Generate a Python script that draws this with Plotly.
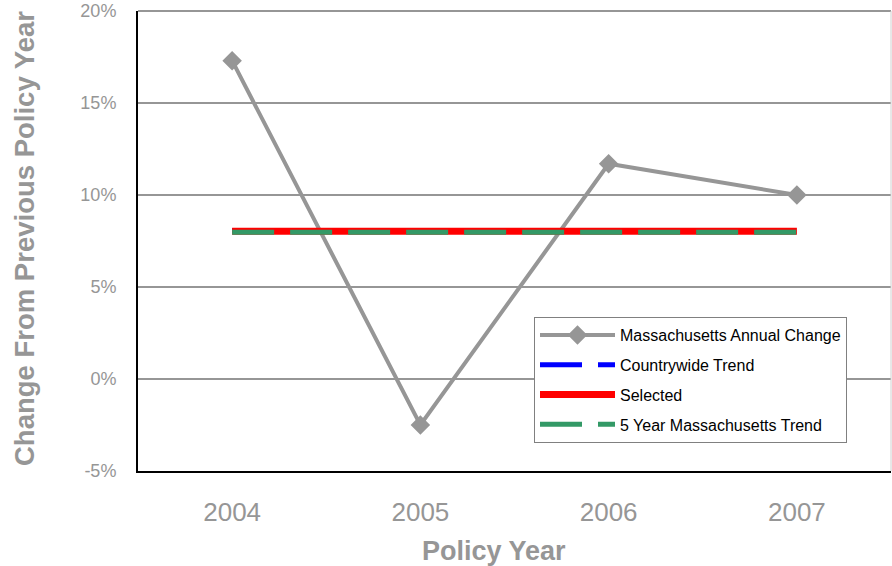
import plotly.graph_objects as go

# dados
anos = ['2004', '2005', '2006', '2007']
variacao_ma = [17.3, -2.5, 11.7, 10.0]
tendencia_pais = [8.07, 8.07, 8.07, 8.07]
selecionado = [8.03, 8.03, 8.03, 8.03]
tendencia_ma_5 = [7.98, 7.98, 7.98, 7.98]
ticks_y = [-5, 0, 5, 10, 15, 20]
rotulos_y = ['-5%', '0%', '5%', '10%', '15%', '20%']

CINZA = '#969696'
FONTE = 'Liberation Sans, Arial, sans-serif'

# limites da área do gráfico em pixels (a margem do body é zerada no html)
ESQ, TOPO, DIR, BASE = 138, 11, 891, 471
LARG, ALT = DIR - ESQ, BASE - TOPO


def px_x(x):
    return (x - ESQ) / LARG


def px_y(y):
    return (BASE - y) / ALT


fig = go.Figure()

fig.add_trace(go.Scatter(
    x=anos, y=variacao_ma, name='Massachusetts Annual Change',
    mode='lines+markers', legendgroup='a',
    line=dict(color=CINZA, width=4),
    marker=dict(symbol='diamond', size=15, color=CINZA)
))
fig.add_trace(go.Scatter(
    x=anos, y=tendencia_pais, name='Countrywide Trend', mode='lines',
    legendgroup='b',
    line=dict(color='#0000ff', width=5, dash='42px,16px')
))
fig.add_trace(go.Scatter(
    x=anos, y=selecionado, name='Selected', mode='lines',
    legendgroup='c',
    line=dict(color='#ff0000', width=7)
))
fig.add_trace(go.Scatter(
    x=anos, y=tendencia_ma_5, name='5 Year Massachusetts Trend', mode='lines',
    legendgroup='d',
    line=dict(color='#339966', width=5, dash='42px,16px')
))

fig.update_layout(
    width=892, height=566,
    margin=dict(l=ESQ, r=892 - DIR, t=TOPO, b=566 - BASE),
    paper_bgcolor='white', plot_bgcolor='white',
    font=dict(family=FONTE, color=CINZA),
    showlegend=True,
    legend=dict(
        x=px_x(534), y=px_y(317), xanchor='left', yanchor='top',
        bgcolor='white', bordercolor='#808080', borderwidth=1,
        font=dict(size=16, color='black', family=FONTE),
        traceorder='grouped', tracegroupgap=6, itemwidth=75
    ),
    xaxis=dict(
        type='category', range=[-0.5, 3.5], automargin=False,
        showgrid=False, showline=True, linecolor='black', linewidth=2,
        ticks='', ticklabelstandoff=17, tickfont=dict(size=26, color=CINZA)
    ),
    yaxis=dict(
        range=[-5, 20], tickvals=ticks_y, ticktext=rotulos_y, automargin=False,
        ticklabeloverflow='allow',
        showgrid=True, gridcolor=CINZA, gridwidth=2,
        zeroline=True, zerolinecolor=CINZA, zerolinewidth=2,
        showline=True, linecolor='black', linewidth=2,
        ticks='', ticklabelstandoff=16, tickfont=dict(size=18, color=CINZA)
    )
)

# títulos dos eixos
fig.add_annotation(text='<b>Policy Year</b>', xref='paper', yref='paper',
                   x=px_x(494), y=px_y(551),
                   xanchor='center', yanchor='middle', showarrow=False,
                   font=dict(size=27, color=CINZA, family=FONTE))
fig.add_annotation(text='<b>Change From Previous Policy Year</b>', xref='paper', yref='paper',
                   x=px_x(24), y=px_y(239), textangle=-90,
                   xanchor='center', yanchor='middle', showarrow=False,
                   font=dict(size=27.5, color=CINZA, family=FONTE))

# linha de grade superior (20%) e borda direita clara da área do gráfico
fig.add_shape(type='line', xref='paper', yref='paper', x0=0, x1=1, y0=1, y1=1,
              line=dict(color=CINZA, width=2), layer='below')
fig.add_shape(type='line', xref='paper', yref='paper', x0=1, x1=1, y0=0, y1=1,
              line=dict(color='#d0d0d0', width=1))

fig.write_html('out.html', config={'displayModeBar': False},
               post_script="document.body.style.margin='0';")
